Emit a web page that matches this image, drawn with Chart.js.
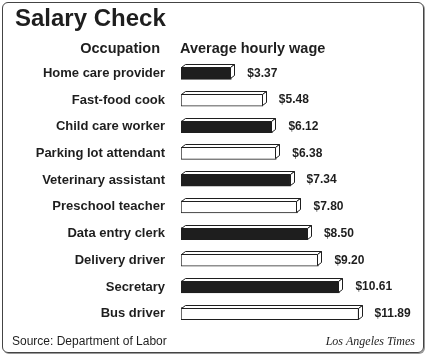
<!DOCTYPE html>
<html>
<head>
<meta charset="utf-8">
<title>Salary Check</title>
<script src="https://cdn.jsdelivr.net/npm/chart.js@4/dist/chart.umd.min.js"></script>
<style>
  html, body { margin: 0; padding: 0; background: #fff; }
  #wrap { position: relative; width: 427px; height: 358px; }
  #frame {
    position: absolute; left: 2px; top: 2px; width: 420px; height: 349px;
    border: 1px solid #444; border-radius: 6px;
    box-shadow: 1px 1px 0 #999;
  }
  #salaryChart { position: absolute; left: 0; top: 0; }
</style>
</head>
<body>
<div id="wrap">
  <div id="frame"></div>
  <canvas id="salaryChart" width="427" height="358"></canvas>
</div>
<script>
var occupations = [
  "Home care provider", "Fast-food cook", "Child care worker",
  "Parking lot attendant", "Veterinary assistant", "Preschool teacher",
  "Data entry clerk", "Delivery driver", "Secretary", "Bus driver"
];
var hourlyWage = [3.37, 5.48, 6.12, 6.38, 7.34, 7.80, 8.50, 9.20, 10.61, 11.89];
var wageLabels = ["$3.37", "$5.48", "$6.12", "$6.38", "$7.34", "$7.80", "$8.50", "$9.20", "$10.61", "$11.89"];

var titleText = "Salary Check";
var colHeaders = ["Occupation", "Average hourly wage"];
var sourceText = "Source: Department of Labor";
var creditText = "Los Angeles Times";

var SANS = '"Liberation Sans", Arial, Helvetica, sans-serif';
var INK = '#1e1e1e';

// every other bar is solid black
var barFill = occupations.map(function (o, i) { return i % 2 === 0 ? INK : '#ffffff'; });

// fake 3D: top face + right side on each bar, then the wage label
var boxBars = {
  id: 'boxBars',
  afterDatasetsDraw: function (chart) {
    var ctx = chart.ctx;
    var meta = chart.getDatasetMeta(0);
    var dx = 4, dy = 3;
    ctx.save();
    ctx.lineWidth = 1;
    ctx.strokeStyle = INK;
    meta.data.forEach(function (bar, i) {
      var left = Math.round(bar.base) + 0.5;
      var right = Math.round(bar.x) - 0.5;
      var top = Math.round(bar.y - bar.height / 2) + 0.5;
      var bottom = Math.round(bar.y + bar.height / 2) - 0.5;

      ctx.fillStyle = '#ffffff';
      ctx.beginPath();
      ctx.moveTo(left, top);
      ctx.lineTo(left + dx, top - dy);
      ctx.lineTo(right + dx, top - dy);
      ctx.lineTo(right, top);
      ctx.closePath();
      ctx.fill();
      ctx.stroke();

      ctx.beginPath();
      ctx.moveTo(right, top);
      ctx.lineTo(right + dx, top - dy);
      ctx.lineTo(right + dx, bottom - dy);
      ctx.lineTo(right, bottom);
      ctx.closePath();
      ctx.fill();
      ctx.stroke();

      ctx.fillStyle = INK;
      ctx.font = 'bold 12px ' + SANS;
      ctx.textAlign = 'left';
      ctx.textBaseline = 'middle';
      ctx.fillText(wageLabels[i], bar.x + 16, bar.y);
    });
    ctx.restore();
  }
};

// title, column headers and footer
var frameText = {
  id: 'frameText',
  afterDraw: function (chart) {
    var ctx = chart.ctx;
    ctx.save();
    ctx.fillStyle = INK;
    ctx.textBaseline = 'alphabetic';

    ctx.font = 'bold 24px ' + SANS;
    ctx.textAlign = 'left';
    ctx.fillText(titleText, 15, 26);

    ctx.font = 'bold 14.5px ' + SANS;
    ctx.textAlign = 'right';
    ctx.fillText(colHeaders[0], 160, 53);
    ctx.textAlign = 'left';
    ctx.fillText(colHeaders[1], chart.chartArea.left - 1, 53);

    ctx.font = '12px ' + SANS;
    ctx.fillText(sourceText, 12, 345);

    ctx.font = 'italic 12px "Liberation Serif", "Times New Roman", serif';
    ctx.textAlign = 'right';
    ctx.fillText(creditText, 415, 345);
    ctx.restore();
  }
};

var ctx = document.getElementById('salaryChart').getContext('2d');
new Chart(ctx, {
  type: 'bar',
  data: {
    labels: occupations,
    datasets: [{
      data: hourlyWage,
      backgroundColor: barFill,
      borderColor: INK,
      borderWidth: 1,
      borderSkipped: false,
      barThickness: 12
    }]
  },
  options: {
    indexAxis: 'y',
    responsive: false,
    animation: false,
    layout: { padding: { top: 60, bottom: 31, right: 22, left: 0 } },
    plugins: {
      legend: { display: false },
      tooltip: { enabled: false },
      title: { display: false }
    },
    scales: {
      x: { display: false, min: 0, max: 15 },
      y: {
        afterFit: function (scale) { scale.width = 181; },
        grid: { display: false, drawTicks: false },
        border: { display: false },
        ticks: {
          color: INK,
          padding: 16,
          font: { family: SANS, size: 13, weight: 'bold' }
        }
      }
    }
  },
  plugins: [boxBars, frameText]
});
</script>
</body>
</html>
